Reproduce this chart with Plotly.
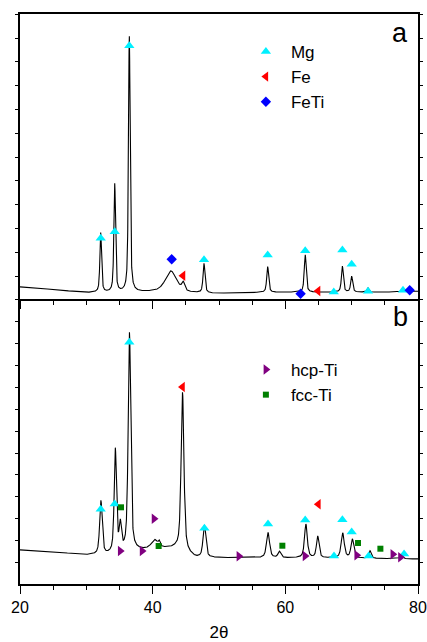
import numpy as np
import plotly.graph_objects as go

# ---------------- data ----------------
two_theta_range = [20, 80]

# background knots (2theta, counts)
bg_a_x = [20, 25, 30, 35, 40, 45, 50, 55, 60, 65, 70, 75, 80]
bg_a_y = [540, 430, 300, 300, 330, 290, 265, 300, 320, 320, 320, 320, 360]
# peaks (position, net height, FWHM)
peaks_a_pos = [32.17, 34.28, 36.48, 42.75, 44.6, 47.74, 57.34, 63.0, 68.6, 70.0, 72.45, 77.7, 78.6]
peaks_a_h   = [2500, 4550, 10750, 900, 330, 1230, 1080, 1570, 1090, 660, 170, 60, 60]
peaks_a_w   = [0.3, 0.3, 0.3, 2.0, 0.5, 0.35, 0.35, 0.35, 0.35, 0.35, 0.35, 0.4, 0.4]

bg_b_x = [20, 25, 30, 33, 37.5, 42, 43.5, 46.5, 55, 65, 80]
bg_b_y = [1580, 1490, 1350, 1350, 1550, 1650, 1650, 1230, 1220, 1220, 1170]
peaks_b_pos = [32.2, 34.37, 35.12, 36.5, 40.3, 41.0, 44.5, 47.8, 57.39, 59.1, 63.1, 64.88, 68.65, 70.1, 72.77, 77.5]
peaks_b_h   = [2450, 4700, 1200, 9950, 400, 200, 7250, 1450, 1150, 280, 1530, 980, 1130, 860, 340, 130]
peaks_b_w   = [0.45, 0.4, 0.4, 0.45, 1.2, 0.3, 0.5, 0.5, 0.55, 0.5, 0.5, 0.45, 0.55, 0.5, 0.4, 0.5]

# phase markers, panel a
mg_a_x = [32.17, 34.28, 36.48, 47.74, 57.34, 63.0, 68.6, 70.0, 67.3, 72.47, 77.74]
mg_a_y = [2584, 2862, 10677, 1685, 1882, 2063, 2093, 1492, 328, 357, 399]
fe_a_x = [44.57, 64.93]
fe_a_y = [1013, 370]
feti_a_x = [42.87, 62.3, 78.75]
feti_a_y = [1702, 256, 399]

# phase markers, panel b
mg_b_x = [32.17, 34.28, 36.48, 47.8, 57.39, 63.0, 68.6, 70.0, 67.34, 72.56, 77.9]
mg_b_y = [3435, 3677, 11050, 2569, 2765, 2947, 2961, 2400, 1306, 1306, 1397]
fe_b_x = [44.5, 64.98]
fe_b_y = [9012, 3663]
hcp_b_x = [35.1, 38.4, 40.2, 53.0, 62.97, 70.76, 76.2, 77.35]
hcp_b_y = [1534, 1534, 3006, 1292, 1306, 1337, 1383, 1246]
fcc_b_x = [35.23, 40.9, 59.55, 70.96, 74.33]
fcc_b_y = [3526, 1762, 1775, 1898, 1638]


def pattern(x, bgx, bgy, pos, h, w, eta=0.6):
    y = np.interp(x, bgx, bgy)
    for p, a, f in zip(pos, h, w):
        g = np.exp(-4 * np.log(2) * ((x - p) / f) ** 2)
        lo = 1.0 / (1.0 + 4 * ((x - p) / f) ** 2)
        y = y + a * (eta * lo + (1 - eta) * g)
    return y


x = np.linspace(20, 80, 4001)
ya = pattern(x, bg_a_x, bg_a_y, peaks_a_pos, peaks_a_h, peaks_a_w)
yb = pattern(x, bg_b_x, bg_b_y, peaks_b_pos, peaks_b_h, peaks_b_w)

CYAN = "#00F0FF"
RED = "#FF0000"
BLUE = "#0000FF"
PURPLE = "#800080"
GREEN = "#008000"

fig = go.Figure()
fig.add_trace(go.Scatter(x=x, y=ya, mode="lines", line=dict(color="black", width=1.1),
                         showlegend=False, xaxis="x", yaxis="y"))
fig.add_trace(go.Scatter(x=x, y=yb, mode="lines", line=dict(color="black", width=1.1),
                         showlegend=False, xaxis="x2", yaxis="y2"))

mk = dict(line=dict(width=0))
fig.add_trace(go.Scatter(x=mg_a_x, y=mg_a_y, mode="markers", name="Mg",
                         marker=dict(symbol="triangle-up", size=9, color=CYAN, **mk),
                         xaxis="x", yaxis="y", legend="legend"))
fig.add_trace(go.Scatter(x=fe_a_x, y=fe_a_y, mode="markers", name="Fe",
                         marker=dict(symbol="triangle-left", size=9, color=RED, **mk),
                         xaxis="x", yaxis="y", legend="legend"))
fig.add_trace(go.Scatter(x=feti_a_x, y=feti_a_y, mode="markers", name="FeTi",
                         marker=dict(symbol="diamond", size=8, color=BLUE, **mk),
                         xaxis="x", yaxis="y", legend="legend"))

fig.add_trace(go.Scatter(x=mg_b_x, y=mg_b_y, mode="markers", name="Mg",
                         marker=dict(symbol="triangle-up", size=9, color=CYAN, **mk),
                         xaxis="x2", yaxis="y2", showlegend=False))
fig.add_trace(go.Scatter(x=fe_b_x, y=fe_b_y, mode="markers", name="Fe",
                         marker=dict(symbol="triangle-left", size=9, color=RED, **mk),
                         xaxis="x2", yaxis="y2", showlegend=False))
fig.add_trace(go.Scatter(x=hcp_b_x, y=hcp_b_y, mode="markers", name="hcp-Ti",
                         marker=dict(symbol="triangle-right", size=9, color=PURPLE, **mk),
                         xaxis="x2", yaxis="y2", legend="legend2"))
fig.add_trace(go.Scatter(x=fcc_b_x, y=fcc_b_y, mode="markers", name="fcc-Ti",
                         marker=dict(symbol="square", size=6, color=GREEN, **mk),
                         xaxis="x2", yaxis="y2", legend="legend2"))

FONT = "Liberation Sans, Arial, sans-serif"
xcommon = dict(range=two_theta_range, tickvals=[20, 40, 60, 80], ticks="outside", ticklen=8,
               tickwidth=1.2, tickcolor="black", showline=True, linecolor="black", linewidth=1.5,
               showgrid=False, zeroline=False,
               minor=dict(dtick=5, tick0=20, ticks="outside", ticklen=4, tickwidth=1.2,
                          tickcolor="black", showgrid=False))
ycommon = dict(dtick=1000, tick0=0, ticks="outside", ticklen=3, tickwidth=1.2, tickcolor="black",
               showline=True, linecolor="black", linewidth=1.5, mirror="ticks",
               showgrid=False, zeroline=False, showticklabels=False)

fig.update_layout(
    width=427, height=642,
    margin=dict(l=20, r=9, t=14, b=58, autoexpand=False),
    paper_bgcolor="white", plot_bgcolor="white",
    font=dict(family=FONT, size=16, color="black"),
    xaxis=dict(domain=[0, 1], anchor="y", showticklabels=False, mirror=True, **xcommon),
    yaxis=dict(domain=[0.5, 1], anchor="x", range=[34, 12010], **ycommon),
    xaxis2=dict(domain=[0, 1], anchor="y2", showticklabels=True, mirror=False,
                tickfont=dict(family=FONT, size=16),
                title=dict(text="2θ", font=dict(family=FONT, size=17), standoff=12),
                **xcommon),
    yaxis2=dict(domain=[0, 0.5], anchor="x2", range=[29, 13025], **ycommon),
    legend=dict(x=0.555, y=0.965, xanchor="left", yanchor="top", bgcolor="rgba(0,0,0,0)",
                font=dict(family=FONT, size=17), itemwidth=40, tracegroupgap=0),
    legend2=dict(x=0.555, y=0.407, xanchor="left", yanchor="top", bgcolor="rgba(0,0,0,0)",
                 font=dict(family=FONT, size=17), itemwidth=40, tracegroupgap=0),
    annotations=[
        dict(text="a", x=77.3, y=(584 - 33) / 570, xref="x", yref="paper",
             xanchor="center", yanchor="middle",
             showarrow=False, font=dict(family=FONT, size=27)),
        dict(text="b", x=77.3, y=(584 - 317) / 570, xref="x", yref="paper",
             xanchor="center", yanchor="middle",
             showarrow=False, font=dict(family=FONT, size=27)),
    ],
)

fig.write_html("out.html")
